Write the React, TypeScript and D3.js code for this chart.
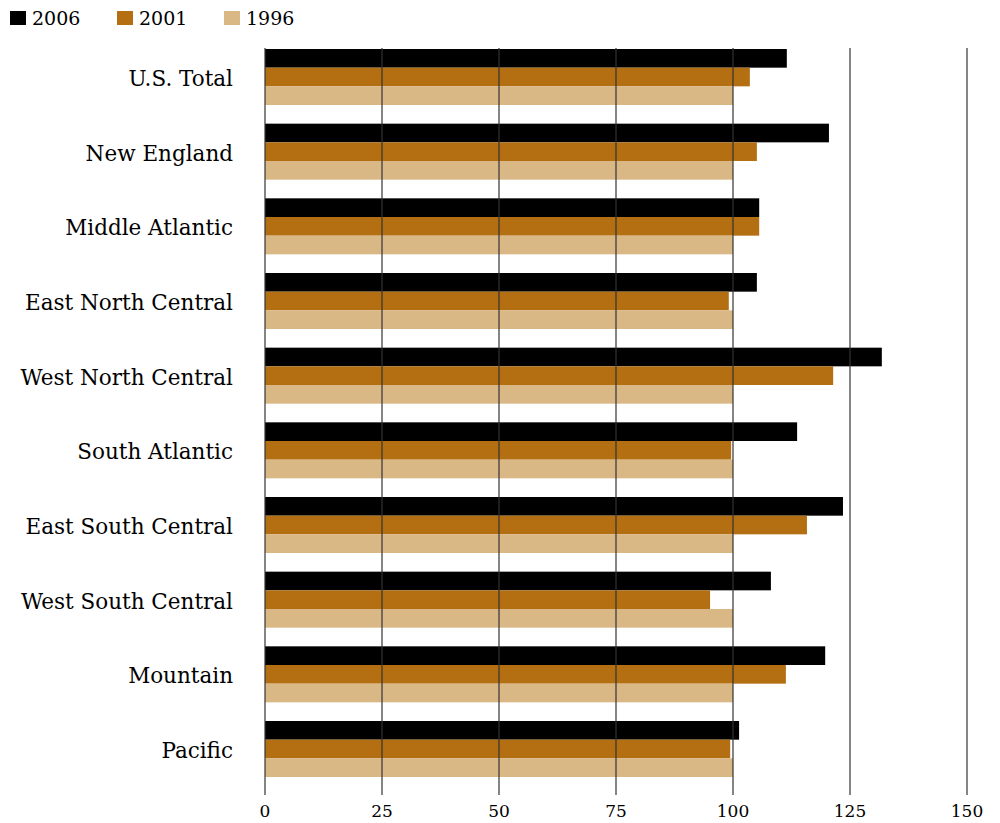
import React from "react";
import * as d3 from "d3";

const categories = [
  "U.S. Total",
  "New England",
  "Middle Atlantic",
  "East North Central",
  "West North Central",
  "South Atlantic",
  "East South Central",
  "West South Central",
  "Mountain",
  "Pacific",
];
const seriesNames = ["2006", "2001", "1996"];
const values2006 = [111.5, 120.5, 105.6, 105.1, 131.8, 113.7, 123.5, 108.1, 119.7, 101.3];
const values2001 = [103.6, 105.1, 105.6, 99.1, 121.4, 99.6, 115.8, 95.1, 111.3, 99.4];
const values1996 = [100, 100, 100, 100, 100, 100, 100, 100, 100, 100];
const colors = ["#000000", "#b36f12", "#d9b886"];
const ticks = [0, 25, 50, 75, 100, 125, 150];

export default function App() {
  const W = 1000, H = 823;
  const font = "'DejaVu Serif', serif";
  const x = d3.scaleLinear().domain([0, 150]).range([265, 967]);
  const y = d3.scaleBand<string>().domain(categories).range([49, 777]).paddingInner(0.25).paddingOuter(0);
  const sub = d3.scaleBand<string>().domain(seriesNames).range([0, y.bandwidth()]);
  const series = [values2006, values2001, values1996];
  const legendX = [10, 117, 224];
  return (
    <svg width={W} height={H} style={{ position: "absolute", left: 0, top: 0 }}>
      <rect width={W} height={H} fill="#fff" />
      {categories.map((c, i) => (
        <g key={c}>
          {series.map((s, j) => (
            <rect
              key={j}
              x={x(0)}
              y={(y(c) as number) + (sub(seriesNames[j]) as number)}
              width={x(s[i]) - x(0)}
              height={sub.bandwidth()}
              fill={colors[j]}
            />
          ))}
          <text
            x={233}
            y={(y(c) as number) + y.bandwidth() / 2}
            dy="0.42em"
            textAnchor="end"
            fontFamily={font}
            fontSize={21.5}
            fill="#000"
          >
            {c}
          </text>
        </g>
      ))}
      {ticks.map((t) => (
        <g key={t}>
          <line x1={x(t)} x2={x(t)} y1={48} y2={795} stroke="#333" strokeWidth={1.2} />
          <text x={x(t)} y={817} textAnchor="middle" fontFamily={font} fontSize={17} fill="#000">
            {t}
          </text>
        </g>
      ))}
      {seriesNames.map((n, j) => (
        <g key={n}>
          <rect x={legendX[j]} y={11} width={16} height={14} fill={colors[j]} />
          <text x={legendX[j] + 22} y={25} fontFamily={font} fontSize={19} fill="#000">
            {n}
          </text>
        </g>
      ))}
    </svg>
  );
}
